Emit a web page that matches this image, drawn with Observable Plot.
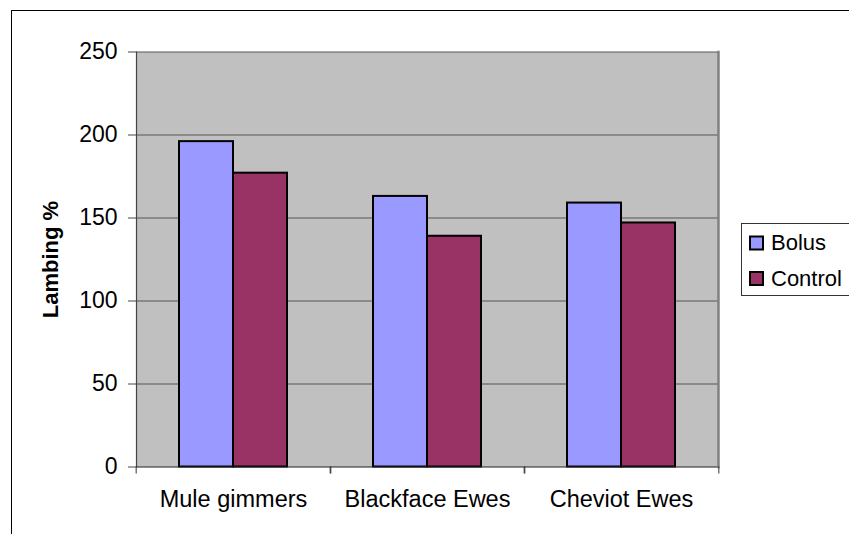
<!DOCTYPE html>
<html>
<head>
<meta charset="utf-8">
<script src="https://cdn.jsdelivr.net/npm/d3@7"></script>
<script src="https://cdn.jsdelivr.net/npm/@observablehq/plot@0.6"></script>
<style>
  html, body { margin: 0; padding: 0; background: #fff; }
  #wrap { position: relative; width: 849px; height: 534px; overflow: hidden; font-family: "Liberation Sans", Arial, sans-serif; }
  #wrap > svg.chart { position: absolute; left: 0; top: 0; }
  #outer { position: absolute; left: 11px; top: 10px; width: 1000px; height: 1000px; border-left: 1px solid #000; border-top: 1px solid #000; }
  #wrap > svg#legend { position: absolute; left: 741px; top: 223px; }
  g[aria-label="y-axis label"] text { font-weight: bold; font-size: 22px; }
</style>
</head>
<body>
<div id="wrap"><div id="outer"></div></div>
<script>
const categories = ["Mule gimmers", "Blackface Ewes", "Cheviot Ewes"];
const series = ["Bolus", "Control"];
const bolus = [196, 163, 159];
const control = [177, 139, 147];
const yTicks = [0, 50, 100, 150, 200, 250];
const colors = ["#9999FF", "#993366"];

const rows = categories.flatMap((c, i) => [
  {category: c, series: series[0], value: bolus[i]},
  {category: c, series: series[1], value: control[i]}
]);

const W = 849, H = 534, mL = 135, mR = 130;
const step = (W - mL - mR) / categories.length;

const chart = Plot.plot({
  width: W, height: H,
  marginLeft: mL, marginRight: mR, marginTop: 51.5, marginBottom: 67.5,
  style: {fontFamily: "'Liberation Sans', Arial, sans-serif", fontSize: "22px", color: "#000", background: "transparent", overflow: "visible"},
  fx: {domain: categories, padding: 0, label: null},
  x: {domain: series, paddingInner: 0, paddingOuter: 0.77, axis: null},
  y: {domain: [0, 250]},
  color: {domain: series, range: colors},
  marks: [
    Plot.frame({fill: "#c0c0c0", stroke: null, shapeRendering: "crispEdges"}),
    Plot.gridY(yTicks.filter(t => t > 0), {stroke: "#555", strokeOpacity: 1, strokeWidth: 1}),
    Plot.barY(rows, {fx: "category", x: "series", y: "value", fill: "series", stroke: "#000", strokeWidth: 2}),
    Plot.ruleY([0], {stroke: "#222", strokeWidth: 1}),
    Plot.frame({anchor: "right", stroke: "#808080", strokeWidth: 2.5, fx: () => categories[categories.length - 1]}),
    Plot.frame({anchor: "left", stroke: "#444", strokeWidth: 1.2, fx: () => categories[0]}),
    Plot.axisY(yTicks, {tickSize: 8, tickPadding: 11, stroke: "#444", fontSize: 23, label: "Lambing %", labelAnchor: "center", labelOffset: 94, labelArrow: false}),
    Plot.axisFx({anchor: "bottom", tickSize: 0, tickPadding: 23, fontSize: 23.5, label: null}),
    Plot.axisFx({anchor: "bottom", tickSize: 7, tickFormat: () => "", dx: -step / 2, stroke: "#333", label: null}),
    Plot.axisFx({anchor: "bottom", tickSize: 7, tickFormat: () => "", dx: step / 2, stroke: "#333", label: null})
  ]
});
chart.classList.add("chart");
document.getElementById("wrap").appendChild(chart);

// Legend
const ns = "http://www.w3.org/2000/svg";
const lg = document.createElementNS(ns, "svg");
lg.setAttribute("id", "legend");
lg.setAttribute("width", 120);
lg.setAttribute("height", 74);
const box = document.createElementNS(ns, "rect");
box.setAttribute("x", 0.5); box.setAttribute("y", 0.5);
box.setAttribute("width", 140); box.setAttribute("height", 72);
box.setAttribute("fill", "#fff"); box.setAttribute("stroke", "#333");
lg.appendChild(box);
series.forEach((s, i) => {
  const sw = document.createElementNS(ns, "rect");
  sw.setAttribute("x", 9); sw.setAttribute("y", 13.5 + i * 35.5);
  sw.setAttribute("width", 13); sw.setAttribute("height", 13);
  sw.setAttribute("fill", colors[i]); sw.setAttribute("stroke", "#000"); sw.setAttribute("stroke-width", 2);
  lg.appendChild(sw);
  const t = document.createElementNS(ns, "text");
  t.setAttribute("x", 30); t.setAttribute("y", 27 + i * 35.5);
  t.setAttribute("font-size", 22);
  t.setAttribute("font-family", "'Liberation Sans', Arial, sans-serif");
  t.textContent = s;
  lg.appendChild(t);
});
document.getElementById("wrap").appendChild(lg);
</script>
</body>
</html>
